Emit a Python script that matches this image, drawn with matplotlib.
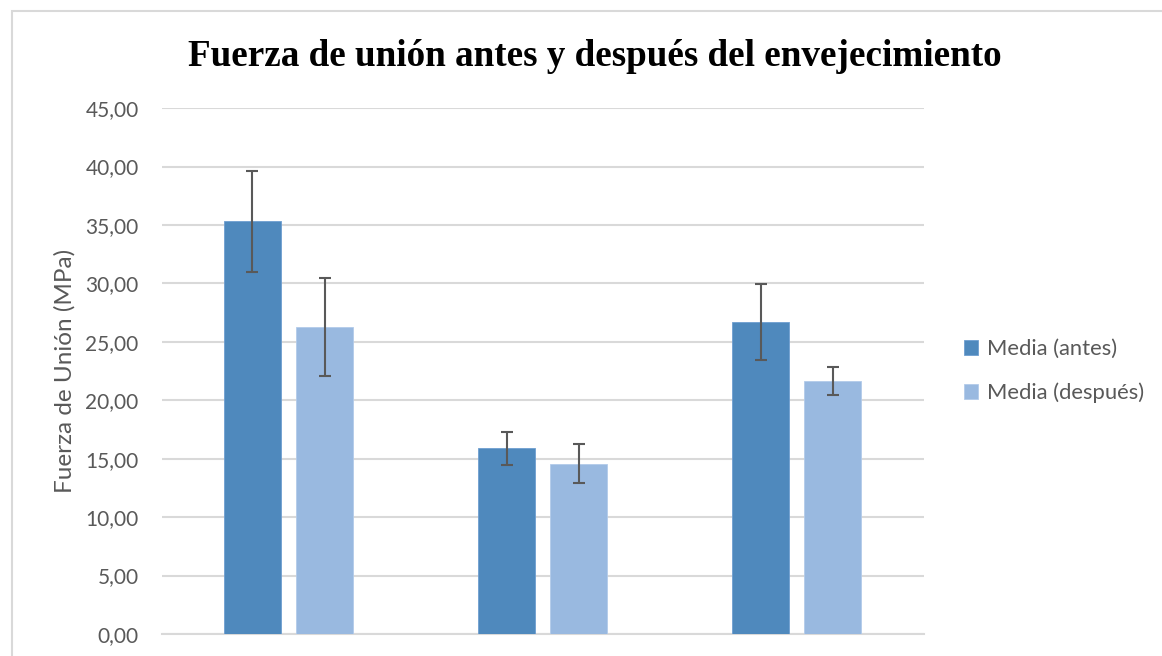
import matplotlib
matplotlib.use("Agg")
import matplotlib.pyplot as plt
import numpy as np
from matplotlib.patches import Rectangle
from matplotlib.ticker import FuncFormatter

# Data
series_names = ["Media (antes)", "Media (después)"]
media_antes = [35.33, 15.91, 26.69]
media_despues = [26.24, 14.57, 21.62]
err_antes = [4.32, 1.41, 3.22]
err_despues = [4.20, 1.68, 1.21]
y_ticks = [0, 5, 10, 15, 20, 25, 30, 35, 40, 45]

title = "Fuerza de unión antes y después del envejecimiento"
ylabel = "Fuerza de Unión (MPa)"

c_antes = "#4F89BD"
c_despues = "#99B9E0"
grid_c = "#D9D9D9"
text_c = "#595959"

fig = plt.figure(figsize=(11.62, 6.56), dpi=100)
ax = fig.add_axes([0.139, 0.0335, 0.656, 0.8017])

x = np.arange(len(media_antes))
bw = 0.224
off = 0.142
ekw = dict(ecolor="#595959", elinewidth=1.5, capsize=4.5, capthick=1.5)
ax.bar(x - off, media_antes, bw, color=c_antes, edgecolor="#6E9ED0", linewidth=0.6,
       yerr=err_antes, error_kw=ekw, label=series_names[0], zorder=3)
ax.bar(x + off, media_despues, bw, color=c_despues, edgecolor="#B3CBEA", linewidth=0.6,
       yerr=err_despues, error_kw=ekw, label=series_names[1], zorder=3)

ax.set_xlim(-0.5, len(media_antes) - 0.5)
ax.set_ylim(0, 45)
ax.set_yticks(y_ticks)
ax.yaxis.set_major_formatter(FuncFormatter(lambda v, p: f"{v:.2f}".replace(".", ",")))
ax.set_xticks([])
ax.grid(axis="y", color=grid_c, linewidth=1.5, zorder=0)
ax.set_axisbelow(True)
for s in ["top", "right", "left"]:
    ax.spines[s].set_visible(False)
ax.spines["bottom"].set_color(grid_c)
ax.spines["bottom"].set_linewidth(1.5)
ax.tick_params(axis="y", length=0, pad=16.5, labelsize=15, labelcolor=text_c)
for lab in ax.get_yticklabels():
    lab.set_fontfamily("Lato")

ax.set_ylabel(ylabel, fontsize=17.5, color=text_c, family="Lato", labelpad=7)

fig.text(0.512, 1 - 66 / 656, title, ha="center", va="baseline", fontsize=26.7,
         fontweight="bold", family="Liberation Serif", color="black")

leg = ax.legend(loc="center left", bbox_to_anchor=(1.027, 0.5), frameon=False,
                prop={"family": "Lato", "size": 15.8}, handlelength=0.65,
                handleheight=0.65, handletextpad=0.4, labelspacing=1.05)
for t in leg.get_texts():
    t.set_color(text_c)

# chart border (partly outside the image)
fig.patches.append(Rectangle((12 / 1162, -0.2), 1.5, 1.2 - 11 / 656,
                             transform=fig.transFigure, fill=False,
                             edgecolor=grid_c, linewidth=1.5))

fig.savefig("out.png", dpi=100)
